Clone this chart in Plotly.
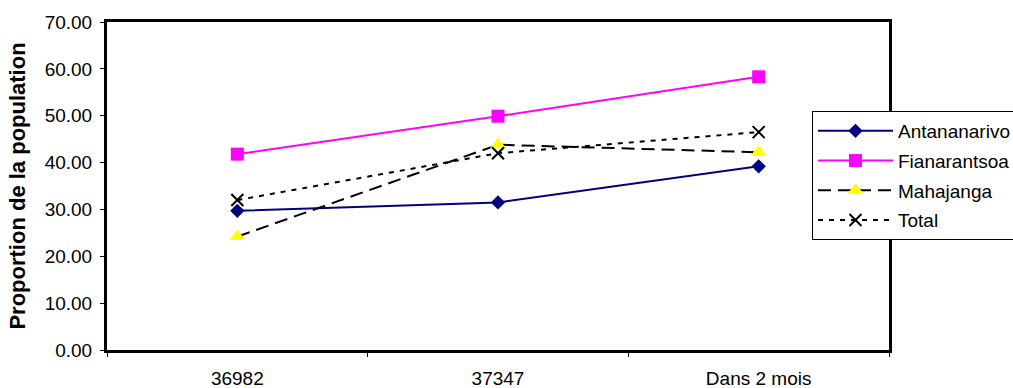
import plotly.graph_objects as go

categories = ["36982", "37347", "Dans 2 mois"]
antananarivo = [29.7, 31.5, 39.2]
fianarantsoa = [41.8, 49.9, 58.3]
mahajanga = [24.2, 43.8, 42.2]
total = [32.0, 42.0, 46.5]
y_ticks = [0, 10, 20, 30, 40, 50, 60, 70]

FONT = "Liberation Sans, Arial, sans-serif"

fig = go.Figure()
fig.add_trace(go.Scatter(
    x=categories, y=antananarivo, name="Antananarivo", mode="lines+markers",
    line=dict(color="#000080", width=2),
    marker=dict(symbol="diamond", size=11, color="#000080"),
    legendgroup="a"))
fig.add_trace(go.Scatter(
    x=categories, y=fianarantsoa, name="Fianarantsoa", mode="lines+markers",
    line=dict(color="#FF00FF", width=2),
    marker=dict(symbol="square", size=13, color="#FF00FF"),
    legendgroup="b"))
fig.add_trace(go.Scatter(
    x=categories, y=mahajanga, name="Mahajanga", mode="lines+markers",
    line=dict(color="black", width=2, dash="13px,7px"),
    marker=dict(symbol="triangle-up", size=14, color="#FFFF00"),
    legendgroup="c"))
fig.add_trace(go.Scatter(
    x=categories, y=total, name="Total", mode="lines+markers",
    line=dict(color="black", width=2, dash="5px,6px"),
    marker=dict(symbol="x-thin-open", size=12, color="black",
                line=dict(color="black", width=2)),
    legendgroup="d"))

fig.update_layout(
    width=1013, height=388,
    margin=dict(l=107, r=124, t=22, b=38, autoexpand=False),
    paper_bgcolor="white", plot_bgcolor="white",
    font=dict(family=FONT, size=19, color="black"),
    legend=dict(
        x=(812 - 107) / 782, y=(350 - 111) / 328, xanchor="left", yanchor="top",
        bgcolor="white", bordercolor="black", borderwidth=1,
        font=dict(family=FONT, size=19, color="black"),
        itemwidth=75, traceorder="grouped", tracegroupgap=2,
    ),
    xaxis=dict(
        type="category", range=[-0.5, 2.5],
        showline=True, linewidth=3, linecolor="black", mirror=True,
        ticks="outside", tickson="boundaries", ticklen=4, tickwidth=1, tickcolor="black",
        showgrid=False, zeroline=False,
        ticklabelstandoff=9,
        tickfont=dict(family=FONT, size=19, color="black"),
    ),
    yaxis=dict(
        range=[0, 70], tickvals=y_ticks, tickformat=".2f",
        showline=True, linewidth=3, linecolor="black", mirror=True,
        ticks="outside", ticklen=4, tickwidth=1, tickcolor="black",
        showgrid=False, zeroline=False,
        ticklabelstandoff=4,
        tickfont=dict(family=FONT, size=19, color="black"),
        title=dict(text="<b>Proportion de la population</b>",
                   font=dict(family=FONT, size=22, color="black"), standoff=13),
    ),
)

fig.write_html("out.html")
